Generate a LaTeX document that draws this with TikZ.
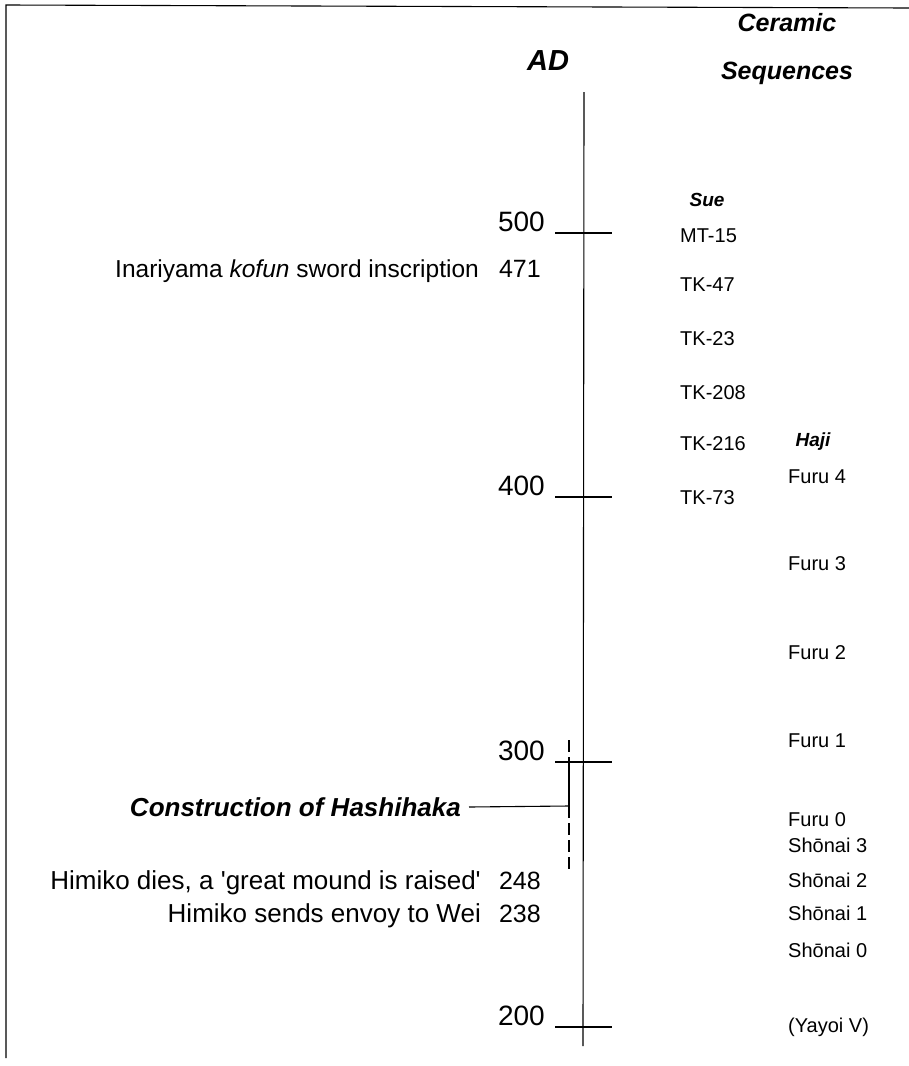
\documentclass[tikz,border=0pt]{standalone}
\usepackage{fontspec}
\setmainfont{Liberation Sans}
\begin{document}
\begin{tikzpicture}[x=1pt,y=-1pt,
  ln/.style={line width=1.1pt,black},
  ttl/.style={font=\fontsize{29}{34}\selectfont\bfseries\itshape,inner sep=0pt},
  ttl2/.style={font=\fontsize{25}{30}\selectfont\bfseries\itshape,inner sep=0pt},
  yr/.style={font=\fontsize{28}{30}\selectfont,inner sep=0pt,anchor=base east},
  ev/.style={font=\fontsize{26}{28}\selectfont,inner sep=0pt,anchor=base east},
  evyr/.style={font=\fontsize{25}{27}\selectfont,inner sep=0pt,anchor=base east},
  seqh/.style={font=\fontsize{19}{21}\selectfont\bfseries\itshape,inner sep=0pt,anchor=base},
  seq/.style={font=\fontsize{20}{22}\selectfont,inner sep=0pt,anchor=base west}]
\useasboundingbox (0,0) rectangle (909,1066);
% frame
\coordinate (fbl) at (6,1058);
\coordinate (ftl) at (6,5);
\coordinate (ftr) at (909,8);
\draw[ln] (fbl) -- (ftl) -- (ftr);
% headings
\node[ttl] (ad) at (548,61) {AD};
\node[ttl2] (cer) at (787,23) {Ceramic};
\node[ttl2] (seqs) at (787,73) {Sequences};
% axis
\coordinate (atop) at (584,92);
\coordinate (abot) at (583,1046);
\draw[ln] (atop) -- (abot);
% ticks
\foreach \v/\y in {500/233,400/497,300/762,200/1027}{
  \coordinate (tl\v) at (555,\y);
  \coordinate (tr\v) at (612,\y);
  \draw[ln] (tl\v) -- (tr\v);
  \node[yr] (y\v) at (545,\y-2) {\v};
}
% events
\node[ev,font=\fontsize{24.5}{26}\selectfont] (inari) at (479,277) {Inariyama \textit{kofun} sword inscription};
\node[evyr] (y471) at (541,277) {471};
\node[ev,font=\fontsize{26}{28}\selectfont\bfseries\itshape,anchor=east] (constr) at (461,807) {Construction of Hashihaka};
\node[ev] (himd) at (481,889) {Himiko dies, a \textquotesingle great mound is raised\textquotesingle};
\node[evyr] (y248) at (541,889) {248};
\node[ev] (hims) at (481,922) {Himiko sends envoy to Wei};
\node[evyr] (y238) at (541,922) {238};
% Hashihaka bracket
\coordinate (hj) at (569,806);
\coordinate (htop) at (569,740);
\coordinate (hsol) at (569,768);
\coordinate (hbot) at (569,873);
\draw[ln] ([xshift=8pt]constr.east) -- (hj);
\draw[ln,dash pattern=on 12pt off 5pt] (htop) -- (hsol);
\draw[ln] (hsol) -- (hj);
\draw[ln,dash pattern=on 12pt off 5pt] (hj) -- (hbot);
% Sue
\node[seqh] (sue) at (707,206) {Sue};
\foreach \t/\y/\n in {MT-15/235/a,TK-47/284/b,TK-23/338/c,TK-208/392/d,TK-216/443/e,TK-73/497/f}{
  \node[seq] (sue\n) at (680,\y+7) {\t};
}
% Haji
\node[seqh] (haji) at (813,446) {Haji};
\foreach \t/\y/\n in {Furu 4/476/a,Furu 3/563/b,Furu 2/652/c,Furu 1/740/d,Furu 0/819/e,Shōnai 3/845/f,Shōnai 2/880/g,Shōnai 1/913/h,Shōnai 0/950/i,(Yayoi V)/1025/j}{
  \node[seq] (haji\n) at (788,\y+7) {\t};
}
\end{tikzpicture}
\end{document}
